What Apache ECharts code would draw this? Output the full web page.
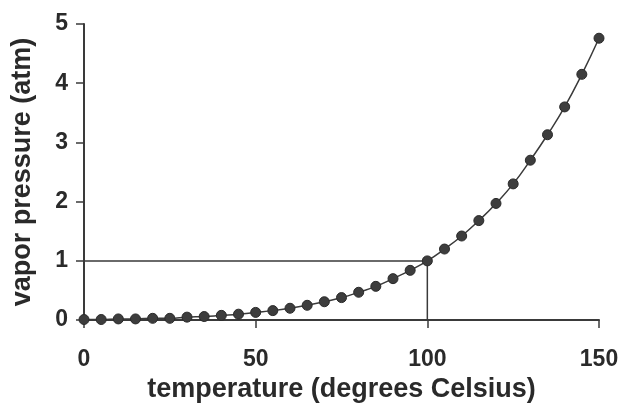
<!DOCTYPE html>
<html>
<head>
<meta charset="utf-8">
<script src="https://cdn.jsdelivr.net/npm/echarts@6/dist/echarts.min.js"></script>
<style>html,body{margin:0;padding:0;background:#fff;}#c{width:623px;height:408px;}</style>
</head>
<body>
<div id="c"></div>
<script>
var temperatures = [0,5,10,15,20,25,30,35,40,45,50,55,60,65,70,75,80,85,90,95,100,105,110,115,120,125,130,135,140,145,150];
var pressures = [0.01,0.01,0.02,0.02,0.03,0.03,0.05,0.06,0.08,0.10,0.13,0.16,0.20,0.25,0.31,0.38,0.47,0.57,0.70,0.84,1.0,1.2,1.42,1.68,1.97,2.3,2.7,3.13,3.6,4.15,4.76];
var guideX = [0, 100, 100];
var guideY = [1, 1, 0];
var xTicks = [0, 50, 100, 150];
var yTicks = [0, 1, 2, 3, 4, 5];

var chart = echarts.init(document.getElementById('c'), null, {renderer: 'canvas'});
var fontFam = '"Liberation Sans", Arial, sans-serif';
chart.setOption({
  animation: false,
  backgroundColor: '#fff',
  grid: {left: 84, right: 24, top: 24, bottom: 87, containLabel: false},
  xAxis: {
    type: 'value', min: xTicks[0], max: xTicks[xTicks.length-1], interval: 50,
    name: 'temperature (degrees Celsius)', nameLocation: 'middle', nameGap: 51,
    nameTextStyle: {fontFamily: fontFam, fontWeight: 'bold', fontSize: 27, color: '#2a2a2a'},
    axisLine: {lineStyle: {color: '#3a3a3a', width: 2}},
    axisTick: {show: true, inside: false, length: 8, lineStyle: {color: '#3a3a3a', width: 1.5}},
    axisLabel: {fontFamily: fontFam, fontWeight: 'bold', fontSize: 23, color: '#2a2a2a', margin: 28},
    splitLine: {show: false}
  },
  yAxis: {
    type: 'value', min: yTicks[0], max: yTicks[yTicks.length-1], interval: 1,
    name: 'vapor pressure (atm)', nameLocation: 'middle', nameGap: 48, nameRotate: 90,
    nameTextStyle: {fontFamily: fontFam, fontWeight: 'bold', fontSize: 27, color: '#2a2a2a'},
    axisLine: {show: true, lineStyle: {color: '#3a3a3a', width: 2}},
    axisTick: {show: true, inside: false, length: 8, lineStyle: {color: '#3a3a3a', width: 1.5}},
    axisLabel: {fontFamily: fontFam, fontWeight: 'bold', fontSize: 23, color: '#2a2a2a', margin: 16},
    splitLine: {show: false}
  },
  series: [
    {
      type: 'line',
      data: guideX.map(function(x, i){ return [x, guideY[i]]; }),
      symbol: 'none',
      lineStyle: {color: '#3a3a3a', width: 1.5},
      z: 1
    },
    {
      type: 'line',
      data: temperatures.map(function(t, i){ return [t, pressures[i]]; }),
      smooth: true,
      symbol: 'circle',
      symbolSize: 10,
      showAllSymbol: true,
      itemStyle: {color: '#3d3d3d', borderColor: '#2a2a2a', borderWidth: 1},
      lineStyle: {color: '#3a3a3a', width: 1.5},
      z: 3
    }
  ]
});
</script>
</body>
</html>
